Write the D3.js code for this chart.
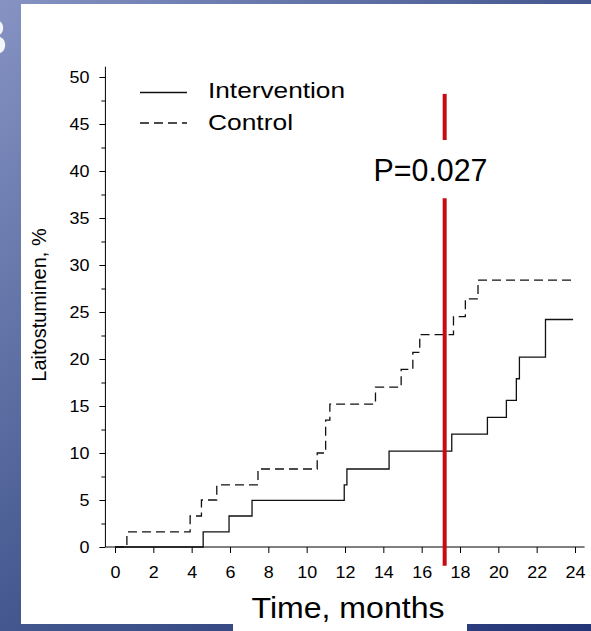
<!DOCTYPE html>
<html>
<head>
<meta charset="utf-8">
<script src="https://cdn.jsdelivr.net/npm/d3@7"></script>
<style>
  body { margin: 0; }
  svg { display: block; font-family: "Liberation Sans", Arial, sans-serif; }
</style>
</head>
<body>
<div id="chart"></div>
<script>
// Kaplan-Meier style step data
const interventionTime = [0, 4.6, 5.95, 7.15, 11.96, 12.1, 14.3, 17.57, 19.43, 20.42, 20.94, 21.1, 22.46, 23.9];
const interventionPct  = [0, 1.6, 3.3, 4.95, 6.6, 8.3, 10.2, 12.0, 13.8, 15.6, 17.9, 20.2, 24.2, 24.2];

const controlTime = [0, 0.62, 3.92, 4.51, 5.31, 7.46, 10.55, 10.99, 11.21, 13.59, 14.93, 15.54, 15.9, 17.66, 18.28, 18.94, 23.9];
const controlPct  = [0, 1.6, 3.3, 5.0, 6.6, 8.3, 10.0, 13.5, 15.2, 17.0, 18.9, 20.7, 22.6, 24.5, 26.4, 28.4, 28.4];

const xTicks = [0, 2, 4, 6, 8, 10, 12, 14, 16, 18, 20, 22, 24];
const yTicks = [0, 5, 10, 15, 20, 25, 30, 35, 40, 45, 50];
const yMinorTicks = [2.5, 7.5, 12.5, 17.5, 22.5, 27.5, 32.5, 37.5, 42.5, 47.5];

const seriesNames = ["Intervention", "Control"];
const markerTime = 17.2;                         // red vertical marker
const markerSegments = [[48.2, 43.3], [37.1, -2]]; // % ranges, split around the label
const pLabel = "P=0.027";

const W = 591, H = 631;
const TEXT_STRETCH = 1.12;

const svg = d3.select("#chart").append("svg").attr("width", W).attr("height", H);

// slide background
const defs = svg.append("defs");
const grad = defs.append("linearGradient").attr("id", "bg").attr("x1", 0).attr("y1", 0).attr("x2", 1).attr("y2", 1);
grad.append("stop").attr("offset", "0%").attr("stop-color", "#8693c3");
grad.append("stop").attr("offset", "50%").attr("stop-color", "#44588f");
grad.append("stop").attr("offset", "100%").attr("stop-color", "#233576");
svg.append("rect").attr("width", W).attr("height", H).attr("fill", "url(#bg)");

// panel letter, cut off by the window edge as in the slide
svg.append("text").attr("x", -30).attr("y", 55).attr("font-size", 52).attr("font-weight", "bold")
  .attr("fill", "#f4f5fa").text("B");

svg.append("rect").attr("x", 21).attr("y", 4).attr("width", W - 21).attr("height", 620).attr("fill", "#fff");
svg.append("rect").attr("x", 233).attr("y", 619).attr("width", 234).attr("height", 12).attr("fill", "#fff");

// scales
const x = d3.scaleLinear().domain([0, 24]).range([115, 575]);
const y = d3.scaleLinear().domain([0, 50]).range([547, 77]);
const axisX0 = -0.5, axisX1 = 24.5, axisYTop = 51.1;

// axes
const xAxis = svg.append("g").attr("transform", `translate(0,${y(0)})`)
  .call(d3.axisBottom(x).tickValues(xTicks).tickSize(6).tickPadding(14));
const yAxis = svg.append("g").attr("transform", `translate(${x(axisX0)},0)`)
  .call(d3.axisLeft(y).tickValues(yTicks).tickSize(6).tickPadding(8.3));
svg.append("g").attr("transform", `translate(${x(axisX0)},0)`)
  .call(d3.axisLeft(y).tickValues(yMinorTicks).tickSize(4).tickFormat(""))
  .select(".domain").remove();

[xAxis, yAxis].forEach(g => {
  g.select(".domain").remove();
  g.selectAll("line").attr("stroke", "#000");
  g.selectAll("text").attr("font-size", 16).attr("fill", "#000")
    .attr("font-family", "'Liberation Sans', Arial, sans-serif")
    .attr("transform", `scale(${TEXT_STRETCH},1)`);
});
svg.append("line").attr("x1", x(axisX0)).attr("x2", x(axisX1)).attr("y1", y(0)).attr("y2", y(0)).attr("stroke", "#000");
svg.append("line").attr("x1", x(axisX0)).attr("x2", x(axisX0)).attr("y1", y(axisYTop)).attr("y2", y(0)).attr("stroke", "#000");

// step curves
const step = d3.line().curve(d3.curveStepAfter).x(d => x(d[0])).y(d => y(d[1]));
svg.append("path").datum(d3.zip(interventionTime, interventionPct))
  .attr("d", step).attr("fill", "none").attr("stroke", "#111").attr("stroke-width", 1.3);
svg.append("path").datum(d3.zip(controlTime, controlPct))
  .attr("d", step).attr("fill", "none").attr("stroke", "#111").attr("stroke-width", 1.3)
  .attr("stroke-dasharray", "9,5");

// red marker line
svg.selectAll(".marker").data(markerSegments).enter().append("line")
  .attr("class", "marker")
  .attr("x1", x(markerTime)).attr("x2", x(markerTime))
  .attr("y1", d => y(d[0])).attr("y2", d => y(d[1]))
  .attr("stroke", "#c40c12").attr("stroke-width", 4);

svg.append("text").attr("x", 430.5).attr("y", 181).attr("text-anchor", "middle")
  .attr("font-size", 32).attr("textLength", 114).attr("lengthAdjust", "spacingAndGlyphs")
  .text(pLabel);

// legend
const legend = svg.append("g");
[92.5, 123].forEach((ly, i) => {
  legend.append("line").attr("x1", 140).attr("x2", 187).attr("y1", ly).attr("y2", ly)
    .attr("stroke", "#111").attr("stroke-width", 1.3)
    .attr("stroke-dasharray", i === 1 ? "9,5" : null);
  legend.append("text").attr("x", 208).attr("y", ly + 5.5 + i * 1.5).attr("font-size", 22)
    .attr("textLength", i === 0 ? 137 : 85).attr("lengthAdjust", "spacingAndGlyphs")
    .text(seriesNames[i]);
});

// axis titles
svg.append("text").attr("x", 348).attr("y", 618).attr("text-anchor", "middle")
  .attr("font-size", 30).attr("textLength", 193).attr("lengthAdjust", "spacingAndGlyphs")
  .text("Time, months");
svg.append("text").attr("transform", "translate(46,305) rotate(-90)").attr("text-anchor", "middle")
  .attr("font-size", 20).text("Laitostuminen, %");
</script>
</body>
</html>
